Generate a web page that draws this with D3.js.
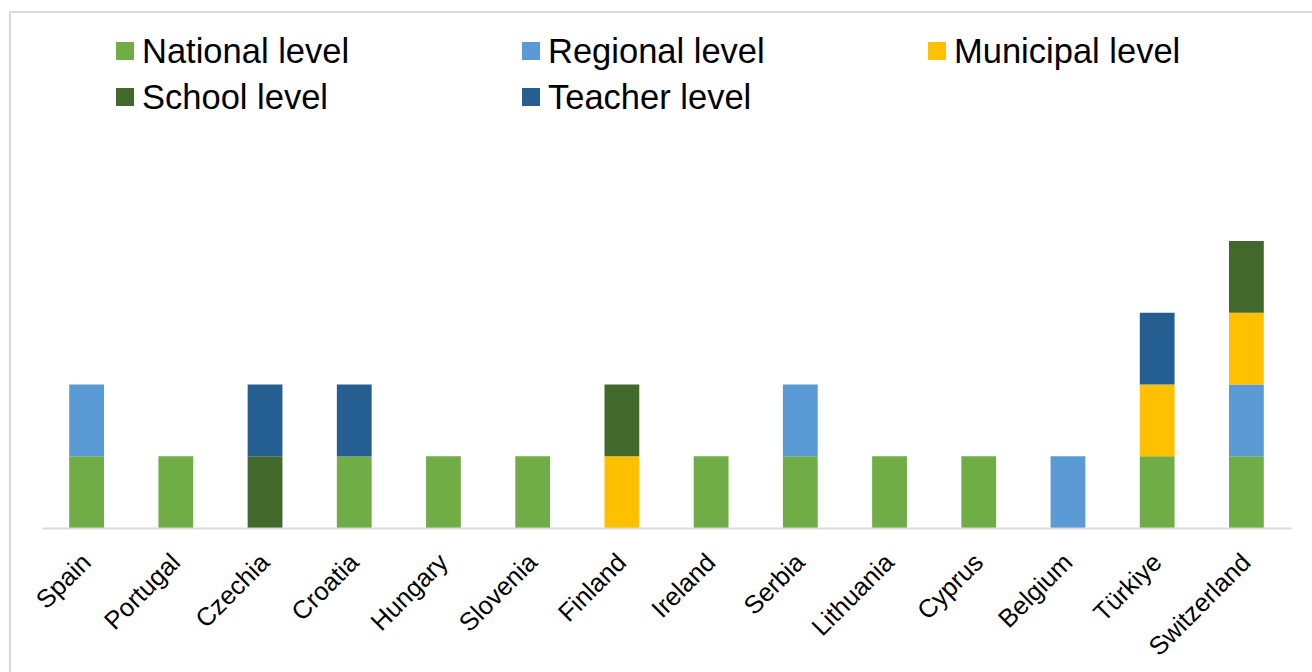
<!DOCTYPE html>
<html>
<head>
<meta charset="utf-8">
<script src="https://cdn.jsdelivr.net/npm/d3@7.9.0/dist/d3.min.js"></script>
<style>
  body { margin: 0; background: #fff; }
  svg { display: block; font-family: "Liberation Sans", Arial, sans-serif; }
</style>
</head>
<body>
<svg width="1312" height="672"></svg>
<script>
// countries along the x axis
const countries = ["Spain", "Portugal", "Czechia", "Croatia", "Hungary", "Slovenia", "Finland",
  "Ireland", "Serbia", "Lithuania", "Cyprus", "Belgium", "Türkiye", "Switzerland"];

// series (stack order bottom to top)
const levels = ["National level", "Regional level", "Municipal level", "School level", "Teacher level"];
const levelColors = ["#70ad47", "#5b9bd5", "#ffc000", "#43682b", "#255e91"];

// values per series, one per country
const national  = [1, 1, 0, 1, 1, 1, 0, 1, 1, 1, 1, 0, 1, 1];
const regional  = [1, 0, 0, 0, 0, 0, 0, 0, 1, 0, 0, 1, 0, 1];
const municipal = [0, 0, 0, 0, 0, 0, 1, 0, 0, 0, 0, 0, 1, 1];
const school    = [0, 0, 1, 0, 0, 0, 1, 0, 0, 0, 0, 0, 0, 1];
const teacher   = [0, 0, 1, 1, 0, 0, 0, 0, 0, 0, 0, 0, 1, 0];

const seriesValues = [national, regional, municipal, school, teacher];

const svg = d3.select("svg");

// outer chart border
svg.append("rect")
  .attr("x", 10).attr("y", 12)
  .attr("width", 1320).attr("height", 700)
  .attr("fill", "none")
  .attr("stroke", "#d9d9d9")
  .attr("stroke-width", 2);

// build table for d3.stack
const table = countries.map((c, i) => {
  let row = { country: c };
  levels.forEach((l, j) => { row[l] = seriesValues[j][i]; });
  return row;
});

const stacked = d3.stack().keys(levels)(table);

const x = d3.scaleBand()
  .domain(countries)
  .range([42, 1291])
  .paddingInner(0.61)
  .paddingOuter(0.305);

const y = d3.scaleLinear()
  .domain([0, 4])
  .range([528, 241]);

const color = d3.scaleOrdinal().domain(levels).range(levelColors);

// bars
svg.append("g")
  .selectAll("g")
  .data(stacked)
  .enter()
  .append("g")
  .attr("fill", d => color(d.key))
  .selectAll("rect")
  .data(d => d.filter(s => s[1] - s[0] > 0))
  .enter()
  .append("rect")
  .attr("x", d => x(d.data.country))
  .attr("width", x.bandwidth())
  .attr("y", d => y(d[1]))
  .attr("height", d => y(d[0]) - y(d[1]));

// x axis
const xAxis = svg.append("g")
  .attr("transform", `translate(0,${y(0)})`)
  .call(d3.axisBottom(x).tickSize(0).tickSizeOuter(0));

xAxis.select(".domain")
  .attr("stroke", "#d9d9d9")
  .attr("stroke-width", 2);

xAxis.selectAll("text")
  .attr("font-family", "Liberation Sans, Arial, sans-serif")
  .attr("font-size", 25.5)
  .attr("fill", "#000")
  .attr("text-anchor", "end")
  .attr("dy", 0)
  .attr("y", 0)
  .attr("transform", "translate(6,36) rotate(-45)");

// legend
const legendPos = [[116, 42], [522, 42], [928, 42], [116, 88], [522, 88]];

const legend = svg.append("g")
  .selectAll("g")
  .data(levels)
  .enter()
  .append("g")
  .attr("transform", (d, i) => `translate(${legendPos[i][0]},${legendPos[i][1]})`);

legend.append("rect")
  .attr("width", 18)
  .attr("height", 18)
  .attr("fill", d => color(d));

legend.append("text")
  .attr("x", 26)
  .attr("y", 21)
  .attr("font-size", 34.5)
  .attr("fill", "#000")
  .text(d => d);
</script>
</body>
</html>
